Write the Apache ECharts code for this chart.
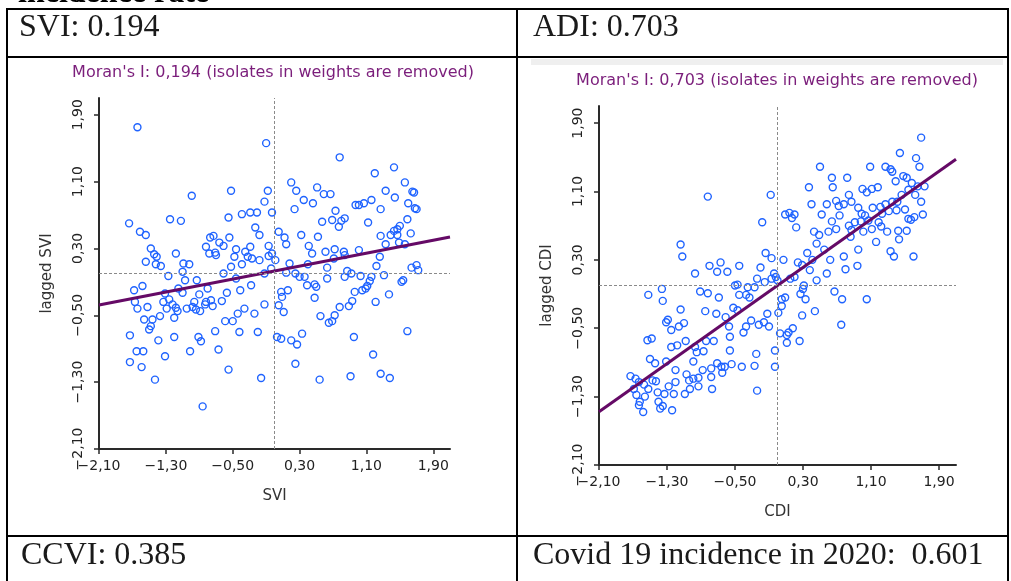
<!DOCTYPE html>
<html><head><meta charset="utf-8">
<script src="https://cdn.jsdelivr.net/npm/echarts@6/dist/echarts.min.js"></script>
<style>html,body{margin:0;padding:0;background:#fff;}#c{width:1011px;height:581px;}</style>
</head><body><div id="c"></div>
<script>
// ---- data ----
const sviPoints = [
[-1.64,1.75],[-0.10,1.56],[0.78,1.39],[1.20,1.20],[1.43,1.27],[1.56,1.09],[0.20,1.09],[0.26,0.99],[-0.52,0.99],[-0.08,0.99],[-0.99,0.93],[0.51,1.03],[0.59,0.95],[0.67,0.95],[1.65,0.98],[1.67,0.97],[1.33,0.99],[1.44,0.91],[0.35,0.88],[0.46,0.84],[-0.12,0.86],[1.16,0.88],[0.97,0.82],[1.01,0.82],[1.07,0.84],[1.60,0.84],[1.68,0.78],[1.70,0.77],[1.27,0.77],[0.73,0.75],[0.24,0.77],[-0.39,0.71],[-0.29,0.73],[-0.21,0.73],[-0.03,0.73],[-0.55,0.67],[-1.25,0.65],[-1.12,0.63],[-1.74,0.60],[0.57,0.62],[0.69,0.64],[0.80,0.63],[0.84,0.66],[0.77,0.56],[1.12,0.61],[1.59,0.65],[1.50,0.57],[1.47,0.53],[1.43,0.51],[-0.23,0.55],[-0.18,0.46],[0.05,0.50],[0.12,0.43],[0.14,0.35],[0.32,0.46],[0.52,0.44],[1.27,0.45],[1.39,0.46],[1.47,0.46],[1.63,0.48],[1.33,0.35],[1.49,0.37],[1.56,0.35],[-1.61,0.50],[-1.54,0.46],[-1.48,0.30],[-1.44,0.23],[-1.41,0.20],[-1.54,0.14],[-1.42,0.11],[-1.36,0.09],[-1.18,0.24],[-1.09,0.12],[-1.02,0.11],[-0.77,0.43],[-0.73,0.45],[-0.66,0.37],[-0.61,0.33],[-0.54,0.43],[-0.82,0.32],[-0.78,0.24],[-0.71,0.25],[-0.70,0.22],[-0.46,0.29],[-0.48,0.20],[-0.35,0.26],[-0.29,0.32],[-0.32,0.20],[-0.27,0.18],[-0.18,0.16],[-0.39,0.11],[-0.52,0.08],[-0.07,0.33],[-0.07,0.21],[-0.03,0.24],[0.01,0.16],[-0.04,0.06],[0.41,0.33],[0.45,0.24],[0.18,0.12],[0.40,0.11],[0.61,0.26],[0.72,0.29],[0.83,0.26],[0.84,0.22],[0.71,0.18],[0.63,0.07],[1.01,0.28],[1.26,0.20],[1.22,0.09],[1.64,0.07],[1.70,0.10],[1.72,0.04],[0.14,0.01],[0.25,0.00],[0.87,0.03],[-0.12,0.00],
[-1.27,-0.03],[-1.10,0.02],[-0.61,0.00],[-1.68,-0.20],[-1.58,-0.15],[-1.07,-0.08],[-0.93,-0.08],[-1.15,-0.18],[-1.10,-0.23],[-1.31,-0.24],[-1.26,-0.31],[-1.33,-0.34],[-1.22,-0.37],[-1.67,-0.34],[-1.64,-0.42],[-1.52,-0.40],[-1.18,-0.41],[-1.29,-0.42],[-1.16,-0.45],[-1.05,-0.42],[-0.98,-0.40],[-0.96,-0.34],[-0.90,-0.25],[-0.94,-0.43],[-0.89,-0.45],[-0.83,-0.37],[-0.82,-0.34],[-0.76,-0.32],[-0.74,-0.39],[-0.80,-0.18],[-0.63,-0.33],[-0.57,-0.23],[-0.46,-0.06],[-0.41,-0.20],[-0.28,-0.14],[-0.36,-0.42],[-0.44,-0.48],[-0.50,-0.57],[-0.59,-0.57],[-0.24,-0.48],[-0.12,-0.37],[-1.56,-0.55],[-1.46,-0.55],[-1.37,-0.51],[-1.48,-0.63],[-1.50,-0.67],[-1.20,-0.53],[-1.73,-0.74],[-1.39,-0.80],[-1.20,-0.76],[-0.91,-0.76],[-0.88,-0.81],[-0.71,-0.69],[-0.42,-0.70],[-0.20,-0.70],[-1.65,-0.93],[-1.57,-0.93],[-1.31,-0.99],[-1.01,-0.93],[-0.67,-0.91],[-1.73,-1.06],[-1.59,-1.12],[-1.43,-1.27],[-0.55,-1.15],[-0.16,-1.25],[-0.86,-1.59],[0.08,-0.22],[0.09,-0.28],[0.16,-0.20],[0.05,-0.38],[0.11,-0.46],[0.30,-0.04],[0.36,-0.04],[0.39,-0.14],[0.48,-0.13],[0.50,-0.16],[0.63,-0.06],[0.84,-0.04],[0.92,0.00],[1.03,-0.03],[1.16,-0.04],[1.31,-0.02],[0.48,-0.29],[0.96,-0.22],[1.05,-0.20],[1.09,-0.18],[1.11,-0.15],[1.14,-0.09],[1.52,-0.10],[1.54,-0.08],[1.37,-0.25],[1.21,-0.34],[0.93,-0.33],[0.89,-0.39],[0.78,-0.40],[0.72,-0.50],[0.69,-0.57],[0.65,-0.59],[0.55,-0.51],[0.33,-0.72],[0.03,-0.76],[0.08,-0.78],[0.20,-0.80],[0.27,-0.85],[0.95,-0.76],[1.59,-0.69],[1.18,-0.97],[0.25,-1.08],[0.54,-1.27],[0.91,-1.23],[1.27,-1.20],[1.38,-1.25]
];
const cdiPoints = [
[1.69,1.73],[1.44,1.55],[1.63,1.49],[1.67,1.39],[0.50,1.39],[1.09,1.39],[1.27,1.39],[1.33,1.36],[1.35,1.33],[1.48,1.28],[1.52,1.26],[0.64,1.26],[0.82,1.26],[1.39,1.22],[1.58,1.20],[1.65,1.16],[1.73,1.16],[0.37,1.15],[0.65,1.15],[1.00,1.13],[1.05,1.09],[1.11,1.13],[1.18,1.15],[1.54,1.12],[-0.82,1.04],[-0.08,1.06],[0.84,1.06],[1.46,1.06],[1.62,1.06],[1.69,0.98],[0.69,0.99],[0.87,0.98],[0.78,0.95],[0.72,0.93],[0.58,0.95],[0.40,0.95],[0.95,0.91],[1.12,0.91],[1.21,0.92],[1.27,0.95],[1.35,0.98],[1.41,0.98],[1.40,0.88],[1.50,0.89],[1.31,0.87],[1.23,0.84],[0.99,0.84],[1.03,0.82],[0.73,0.82],[0.52,0.83],[0.09,0.83],[0.14,0.85],[0.20,0.83],[0.17,0.79],[1.54,0.78],[1.57,0.77],[1.61,0.80],[1.71,0.83],[-0.18,0.74],[0.64,0.75],[0.84,0.70],[0.91,0.74],[0.98,0.75],[1.07,0.76],[1.19,0.74],[0.87,0.65],[0.69,0.66],[0.60,0.63],[0.43,0.63],[0.49,0.59],[0.22,0.68],[1.01,0.63],[1.11,0.66],[1.22,0.69],[1.29,0.63],[1.42,0.64],[1.52,0.64],[0.86,0.57],[0.46,0.49],[0.55,0.42],[1.16,0.51],[1.43,0.54],[-1.14,0.48],[-1.12,0.34],[-0.14,0.38],[-0.07,0.32],[0.07,0.30],[0.35,0.38],[0.41,0.30],[0.24,0.27],[0.29,0.24],[0.38,0.18],[0.62,0.30],[0.78,0.34],[0.95,0.42],[0.80,0.19],[0.94,0.23],[1.33,0.40],[1.37,0.34],[1.60,0.34],[-0.80,0.23],[-0.67,0.27],[-0.71,0.16],[-0.59,0.16],[-0.45,0.23],[-0.97,0.14],[-0.20,0.21],[-0.04,0.14],[0.58,0.14],[0.46,0.06],[-0.24,0.08],[-0.15,0.04],[-0.07,0.08],[-0.02,0.10],[0.00,0.06],[0.15,0.08],[0.20,0.10],[0.31,0.00],[0.30,-0.04],[-0.50,0.00],[-0.47,0.01],[-0.35,-0.02],[-0.27,-0.02],[-1.36,-0.04],
[-1.52,-0.11],[-1.35,-0.18],[-0.91,-0.07],[-0.82,-0.09],[-0.69,-0.14],[-0.45,-0.11],[-0.37,-0.11],[-0.33,-0.14],[0.05,-0.16],[0.09,-0.14],[0.05,-0.24],[0.27,-0.10],[0.33,-0.16],[0.67,-0.07],[0.76,-0.16],[1.05,-0.16],[-1.14,-0.28],[-0.85,-0.30],[-0.72,-0.33],[-0.61,-0.37],[-0.52,-0.26],[-0.47,-0.29],[-0.12,-0.33],[0.01,-0.32],[0.29,-0.35],[0.44,-0.30],[-1.29,-0.40],[-1.31,-0.43],[-1.25,-0.52],[-1.16,-0.48],[-1.10,-0.44],[-0.57,-0.48],[-0.40,-0.55],[-0.37,-0.48],[-0.31,-0.41],[-0.22,-0.46],[-0.16,-0.43],[-0.10,-0.48],[0.03,-0.56],[0.11,-0.58],[0.13,-0.55],[0.18,-0.50],[0.11,-0.67],[0.26,-0.65],[0.75,-0.46],[-1.53,-0.64],[-1.48,-0.62],[-1.25,-0.72],[-1.18,-0.70],[-1.08,-0.65],[-0.97,-0.72],[-0.95,-0.78],[-0.87,-0.77],[-0.84,-0.65],[-0.75,-0.65],[-0.56,-0.60],[-0.56,-0.76],[-0.25,-0.80],[-0.03,-0.76],[-1.50,-0.86],[-1.44,-0.91],[-1.31,-0.89],[-1.20,-0.99],[-0.99,-0.89],[-0.88,-0.99],[-0.78,-0.97],[-0.71,-0.91],[-0.66,-0.95],[-0.62,-0.95],[-0.65,-1.02],[-0.54,-0.92],[-0.42,-0.95],[-0.27,-0.94],[-0.03,-0.95],[-1.73,-1.06],[-1.67,-1.09],[-1.63,-1.13],[-1.47,-1.11],[-1.43,-1.12],[-1.57,-1.16],[-1.52,-1.21],[-1.69,-1.21],[-1.66,-1.28],[-1.62,-1.36],[-1.63,-1.40],[-1.56,-1.30],[-1.58,-1.48],[-1.41,-1.25],[-1.33,-1.27],[-1.22,-1.27],[-1.40,-1.36],[-1.38,-1.44],[-1.35,-1.41],[-1.24,-1.46],[-1.28,-1.18],[-1.20,-1.13],[-1.07,-1.04],[-1.04,-1.11],[-0.99,-1.09],[-0.93,-1.08],[-1.03,-1.21],[-1.09,-1.27],[-0.93,-1.18],[-0.78,-1.07],[-0.77,-1.21],[-0.24,-1.23]
];
const axisTicks = [-2.1, -1.3, -0.5, 0.3, 1.1, 1.9];
const axisMin = -2.1, axisMax = 2.1;
const sviFit = { slope: 0.194, intercept: 0.03 };
const cdiFit = { slope: 0.703, intercept: 0.0 };
const headingText = 'incidence rate';
const cellTexts = ['SVI: 0.194', 'ADI: 0.703', 'CCVI: 0.385', 'Covid 19 incidence in 2020:  0.601'];
const panelTitles = ["Moran's I: 0,194 (isolates in weights are removed)", "Moran's I: 0,703 (isolates in weights are removed)"];
const axisNames = [['SVI', 'lagged SVI'], ['CDI', 'lagged CDI']];

// ---- chart ----
const fmt = v => v.toFixed(2).replace('.', ',').replace('-', '\u2212');
const sans = 'DejaVu Sans';
const axisColor = '#2a2a2a';

function mkAxis(idx, name, isY) {
  return {
    type: 'value', gridIndex: idx, min: axisMin, max: axisMax,
    name: name, nameLocation: 'middle', nameGap: isY ? 44 : 40,
    nameTextStyle: { fontFamily: sans, fontSize: 15, color: '#333' },
    axisLine: { show: true, onZero: false, lineStyle: { color: axisColor, width: 2 } },
    axisTick: { show: true, length: 5, customValues: axisTicks, lineStyle: { color: axisColor, width: 1.5 } },
    axisLabel: { customValues: axisTicks, formatter: fmt, fontFamily: sans, fontSize: 14, color: '#222',
                 margin: isY ? 14 : 10, rotate: isY ? 90 : 0 },
    splitLine: { show: false }
  };
}
function fitLine(fit) {
  return [[axisMin, fit.intercept + fit.slope * axisMin], [axisMax, fit.intercept + fit.slope * axisMax]];
}
function scatterSeries(idx, pts) {
  return {
    type: 'scatter', xAxisIndex: idx, yAxisIndex: idx, data: pts,
    symbol: 'circle', symbolSize: 7, z: 2,
    itemStyle: { color: 'rgba(255,255,255,0)', borderColor: '#1f63ff', borderWidth: 1.4, opacity: 1 },
    markLine: {
      silent: true, symbol: ['none', 'none'], label: { show: false },
      lineStyle: { color: '#8a8a8a', type: [3, 2], width: 1 },
      data: [{ xAxis: 0 }, { yAxis: 0 }]
    }
  };
}
function lineSeries(idx, fit) {
  return {
    type: 'line', xAxisIndex: idx, yAxisIndex: idx, data: fitLine(fit),
    showSymbol: false, z: 3, lineStyle: { color: '#650a66', width: 3 }
  };
}
const L = (x1, y1, x2, y2) => ({ type: 'line', shape: { x1, y1, x2, y2 }, style: { stroke: '#000', lineWidth: 2 }, silent: true });
const T = (x, y, text, font, color, align, va) => ({
  type: 'text', x, y, silent: true,
  style: { text, font, fill: color, align: align || 'left', verticalAlign: va || 'middle' }
});

const chart = echarts.init(document.getElementById('c'), null, { renderer: 'canvas' });
chart.setOption({
  animation: false,
  backgroundColor: '#fff',
  grid: [
    { left: 99, top: 98, width: 351, height: 351 },
    { left: 599, top: 106, width: 357, height: 359 }
  ],
  xAxis: [mkAxis(0, axisNames[0][0], false), mkAxis(1, axisNames[1][0], false)],
  yAxis: [mkAxis(0, axisNames[0][1], true), mkAxis(1, axisNames[1][1], true)],
  series: [scatterSeries(0, sviPoints), lineSeries(0, sviFit), scatterSeries(1, cdiPoints), lineSeries(1, cdiFit)],
  graphic: [
    { type: 'rect', shape: { x: 531, y: 59, width: 472, height: 6 }, style: { fill: '#efefef' }, silent: true },
    L(7, 9, 1008, 9), L(7, 57, 1008, 57), L(7, 536, 1008, 536),
    L(7, 8, 7, 581), L(517, 8, 517, 581), L(1008, 8, 1008, 581),
    T(18, 10, headingText, 'bold 32px "Liberation Serif"', '#000', 'left', 'bottom'),
    T(19, 28, cellTexts[0], '32px "Liberation Serif"', '#1a1a1a'),
    T(533, 28, cellTexts[1], '32px "Liberation Serif"', '#1a1a1a'),
    T(21, 556, cellTexts[2], '32px "Liberation Serif"', '#1a1a1a'),
    T(533, 556, cellTexts[3], '32px "Liberation Serif"', '#1a1a1a'),
    T(273, 73, panelTitles[0], '16px "DejaVu Sans"', '#7b1e7b', 'center'),
    T(777, 81, panelTitles[1], '16px "DejaVu Sans"', '#7b1e7b', 'center')
  ]
});
</script>
</body></html>
